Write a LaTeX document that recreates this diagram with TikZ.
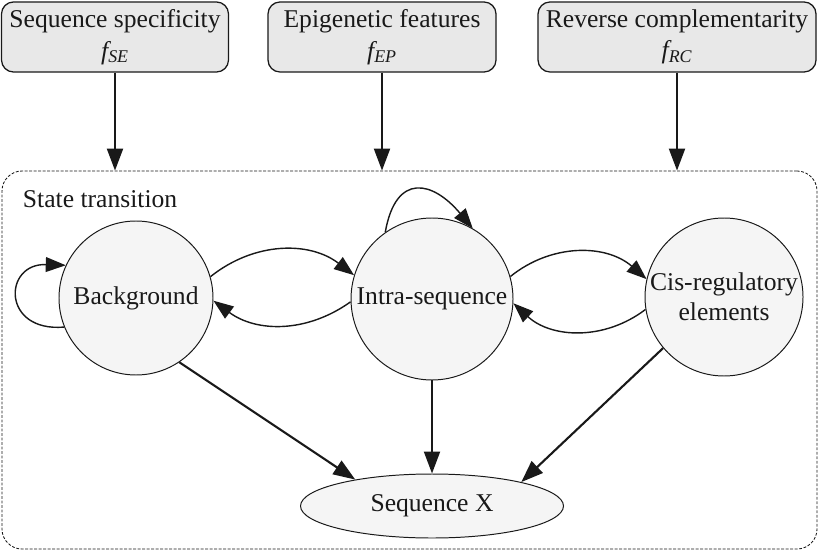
\documentclass[tikz,border=0pt]{standalone}
\usepackage{fontspec}
\setmainfont{Liberation Serif}
\usetikzlibrary{arrows.meta,shapes.geometric}

\tikzset{
  feat/.style={draw, line width=0.9pt, fill=gray!18, rounded corners=0.3cm,
    align=center, inner sep=0pt, minimum height=1.75cm},
  state/.style={draw, circle, line width=0.7pt, fill=gray!8, align=center, inner sep=0pt},
  frame/.style={draw, dash pattern=on 2pt off 1.2pt, line width=0.6pt, rounded corners=0.5cm},
  arr/.style={-{Triangle[length=0.55cm,width=0.4cm]}, line width=1.5pt},
  link/.style={-{Triangle[length=0.5cm,width=0.37cm]}, line width=1pt}
}

\begin{document}
\begin{tikzpicture}[x=0.025cm, y=-0.025cm, font=\fontsize{18.2}{22.5}\selectfont, color=black!90]
	  \useasboundingbox (0,0) rectangle (820,551);
	  \foreach \x/\w/\nm/\txt/\sub in {115/227/se/Sequence specificity/SE,382/228/ep/Epigenetic features/EP,677/278/rc/Reverse complementarity/RC}
	  {
		\draw(\x, 37) node[feat, minimum width=\w*0.025cm](\nm) {\txt\\{\itshape f\textsubscript{\sub}}};
	  }
	  \draw(409.5, 360) node[frame, minimum width=815*0.025cm, minimum height=378*0.025cm](st) {};
	  \draw(18, 199) node[anchor=west](lbl) {State transition};
	  \foreach \nm in {se,ep,rc}
	  {
		\draw[arr](\nm.south) -- (\nm.south |- st.north);
	  }
	  % states
	  \draw(136, 298) node[state, minimum size=154*0.025cm](bg) {Background};
	  \draw(432, 299) node[state, minimum size=162*0.025cm](intra) {Intra-sequence};
	  \draw(724, 297) node[state, minimum size=158*0.025cm](cis) {Cis-regulatory\\[-1.5pt]elements};
	  \draw(432, 506) node[ellipse, draw, line width=0.7pt, fill=gray!8, inner sep=0pt,
		minimum width=263*0.025cm, minimum height=64*0.025cm](seq) {Sequence X};
	  \draw[link](bg.16) to[bend left=38] (intra.163);
	  \draw[link](intra.182) to[bend left=36] (bg.358);
	  \draw[link](intra.16) to[bend left=40] (cis.167);
	  \draw[link](cis.189) to[bend left=40] (intra.357);
	  \draw[link](bg.202) to[out=185, in=178, looseness=2.6] (bg.155);
	  \draw[link](intra.125) to[out=80, in=130, looseness=1.8] (intra.60);
	  \draw[arr](bg.-56) -- (seq.161);
	  \draw[arr](intra.south) -- (seq.north);
	  \draw[arr](cis.220) -- (seq.15);
	\end{tikzpicture}
\end{document}
